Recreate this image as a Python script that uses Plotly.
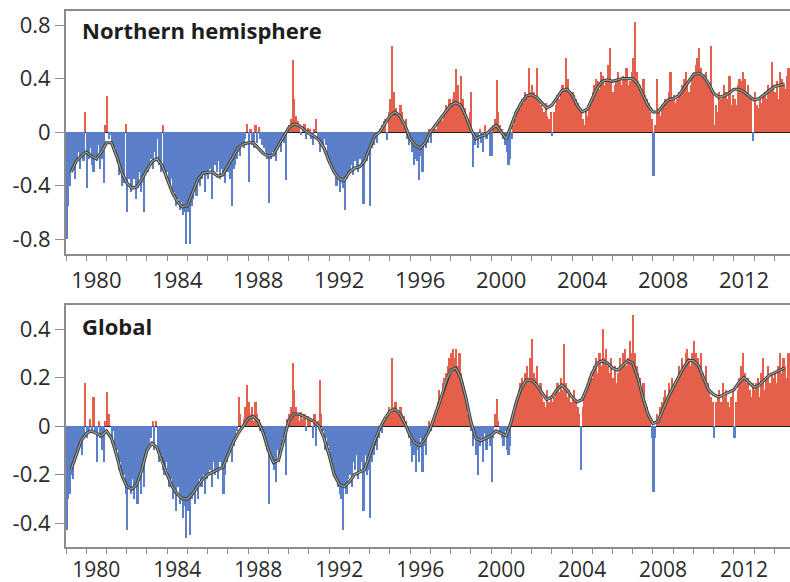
import plotly.graph_objects as go

# ---------------- data (monthly anomalies, Jan 1979 .. Oct 2014) ----------------
start_year = 1979
nh_anom = [
    # 1979
    -0.80, -0.55, -0.40, -0.30, -0.25, -0.35, -0.20, -0.15, -0.28, -0.18, -0.22, 0.15,
    # 1980
    -0.42, -0.20, -0.12, -0.25, -0.30, -0.18, -0.22, -0.10, -0.28, -0.20, -0.38, 0.05,
    # 1981
    0.27, -0.05, -0.02, -0.10, -0.15, -0.12, -0.22, -0.32, -0.28, -0.40, -0.38, 0.06,
    # 1982
    -0.60, -0.35, -0.45, -0.40, -0.35, -0.50, -0.42, -0.30, -0.45, -0.38, -0.60, -0.30,
    # 1983
    -0.30, -0.25, -0.20, -0.28, -0.15, -0.22, -0.05, -0.25, -0.30, 0.05, -0.28, -0.35,
    # 1984
    -0.30, -0.40, -0.35, -0.48, -0.45, -0.55, -0.50, -0.58, -0.52, -0.62, -0.60, -0.84,
    # 1985
    -0.60, -0.84, -0.55, -0.50, -0.42, -0.48, -0.38, -0.40, -0.35, -0.30, -0.45, -0.32,
    # 1986
    -0.35, -0.28, -0.50, -0.30, -0.25, -0.30, -0.22, -0.35, -0.28, -0.32, -0.38, -0.30,
    # 1987
    -0.30, -0.35, -0.55, -0.28, -0.25, -0.20, -0.15, -0.18, -0.10, -0.12, -0.05, 0.06,
    # 1988
    -0.37, 0.02, -0.10, -0.12, 0.05, -0.08, 0.04, -0.05, -0.10, -0.12, -0.15, -0.20,
    # 1989
    -0.53, -0.20, -0.15, -0.18, -0.22, -0.12, -0.10, -0.15, -0.05, -0.08, -0.36, 0.02,
    # 1990
    0.05, 0.10, 0.54, 0.25, 0.12, 0.08, 0.05, -0.02, 0.04, 0.06, -0.05, 0.03,
    # 1991
    0.02, -0.05, -0.10, 0.02, 0.10, -0.06, -0.15, -0.08, -0.12, -0.05, -0.10, -0.18,
    # 1992
    -0.20, -0.25, -0.30, -0.28, -0.40, -0.35, -0.45, -0.38, -0.42, -0.58, -0.35, -0.30,
    # 1993
    -0.30, -0.25, -0.32, -0.22, -0.28, -0.30, -0.20, -0.25, -0.54, -0.18, -0.22, -0.15,
    # 1994
    -0.55, -0.12, -0.10, -0.05, -0.08, 0.00, 0.02, 0.05, 0.08, 0.10, -0.06, 0.15,
    # 1995
    0.25, 0.64, 0.30, 0.18, 0.15, 0.12, 0.20, 0.15, 0.08, 0.10, -0.05, -0.10,
    # 1996
    -0.05, -0.15, -0.25, -0.20, -0.22, -0.36, -0.18, -0.30, -0.10, -0.12, -0.08, 0.02,
    # 1997
    -0.08, 0.00, 0.05, 0.02, 0.08, 0.10, 0.12, 0.08, 0.15, 0.20, 0.18, 0.25,
    # 1998
    0.20, 0.25, 0.30, 0.47, 0.35, 0.22, 0.42, 0.25, 0.18, 0.12, 0.08, 0.15,
    # 1999
    0.30, -0.26, -0.10, -0.05, -0.12, 0.02, -0.08, -0.15, 0.05, -0.05, 0.00, -0.18,
    # 2000
    -0.18, 0.05, 0.10, 0.39, 0.15, 0.05, 0.02, -0.05, -0.10, -0.15, -0.25, -0.20,
    # 2001
    -0.05, 0.05, 0.10, 0.15, 0.20, 0.18, 0.25, 0.22, 0.30, 0.28, 0.48, 0.30,
    # 2002
    0.35, 0.30, 0.28, 0.48, 0.25, 0.20, 0.18, 0.15, 0.22, 0.12, 0.10, 0.15,
    # 2003
    -0.03, 0.15, 0.20, 0.28, 0.25, 0.30, 0.35, 0.32, 0.55, 0.40, 0.30, 0.28,
    # 2004
    0.30, 0.28, 0.25, 0.22, 0.18, 0.15, 0.10, 0.05, 0.18, 0.12, 0.20, 0.25,
    # 2005
    0.30, 0.35, 0.40, 0.38, 0.32, 0.45, 0.42, 0.35, 0.40, 0.50, 0.63, 0.38,
    # 2006
    0.30, 0.35, 0.40, 0.45, 0.38, 0.35, 0.42, 0.40, 0.48, 0.35, 0.38, 0.45,
    # 2007
    0.55, 0.82, 0.45, 0.38, 0.35, 0.30, 0.40, 0.28, 0.25, 0.22, 0.15, 0.10,
    # 2008
    -0.33, 0.05, 0.40, 0.15, 0.12, 0.18, 0.20, 0.25, 0.22, 0.30, 0.45, 0.25,
    # 2009
    0.28, 0.22, 0.25, 0.30, 0.28, 0.35, 0.40, 0.45, 0.38, 0.30, 0.35, 0.42,
    # 2010
    0.45, 0.50, 0.55, 0.63, 0.48, 0.42, 0.40, 0.45, 0.38, 0.35, 0.64, 0.30,
    # 2011
    0.05, 0.20, 0.15, 0.30, 0.25, 0.28, 0.35, 0.30, 0.25, 0.42, 0.20, 0.28,
    # 2012
    0.25, 0.20, 0.35, 0.40, 0.38, 0.45, 0.40, 0.30, 0.35, 0.28, 0.25, -0.07,
    # 2013
    0.30, 0.20, 0.18, 0.25, 0.22, 0.28, 0.30, 0.25, 0.35, 0.30, 0.52, 0.35,
    # 2014
    0.30, 0.38, 0.25, 0.45, 0.40, 0.35, 0.32, 0.42, 0.48, 0.40,
]

gl_anom = [
    # 1979
    -0.43, -0.30, -0.28, -0.20, -0.22, -0.15, -0.12, -0.10, -0.08, -0.12, -0.05, 0.18,
    # 1980
    -0.05, -0.02, 0.03, -0.03, 0.12, -0.02, -0.15, 0.02, -0.05, -0.10, -0.15, 0.02,
    # 1981
    0.14, 0.05, 0.00, -0.05, -0.02, -0.08, -0.10, -0.18, -0.15, -0.22, -0.20, -0.28,
    # 1982
    -0.43, -0.25, -0.28, -0.22, -0.30, -0.25, -0.32, -0.20, -0.28, -0.18, -0.25, -0.12,
    # 1983
    -0.10, -0.08, -0.05, 0.02, -0.10, 0.02, -0.08, -0.15, -0.12, -0.18, -0.20, -0.15,
    # 1984
    -0.18, -0.25, -0.22, -0.30, -0.28, -0.35, -0.25, -0.32, -0.30, -0.38, -0.33, -0.46,
    # 1985
    -0.35, -0.45, -0.30, -0.28, -0.32, -0.25, -0.30, -0.22, -0.25, -0.20, -0.28, -0.22,
    # 1986
    -0.20, -0.18, -0.25, -0.15, -0.20, -0.18, -0.22, -0.15, -0.17, -0.28, -0.20, -0.15,
    # 1987
    -0.12, -0.10, -0.15, -0.08, -0.05, -0.02, 0.12, 0.05, 0.00, 0.03, 0.08, 0.17,
    # 1988
    0.10, 0.05, 0.08, 0.02, 0.10, 0.05, 0.03, -0.02, 0.00, -0.05, -0.08, -0.10,
    # 1989
    -0.32, -0.12, -0.15, -0.18, -0.23, -0.10, -0.15, -0.08, -0.05, -0.06, -0.20, 0.03,
    # 1990
    0.05, 0.08, 0.26, 0.15, 0.08, 0.05, 0.02, 0.06, 0.03, 0.05, -0.02, 0.04,
    # 1991
    0.03, 0.00, -0.05, 0.05, -0.08, 0.02, 0.19, 0.05, -0.02, -0.10, -0.05, -0.08,
    # 1992
    -0.10, -0.15, -0.18, -0.20, -0.22, -0.25, -0.28, -0.30, -0.43, -0.25, -0.28, -0.22,
    # 1993
    -0.20, -0.25, -0.15, -0.18, -0.12, -0.22, -0.18, -0.15, -0.35, -0.12, -0.20, -0.18,
    # 1994
    -0.38, -0.15, -0.12, -0.08, -0.10, -0.05, -0.02, -0.03, 0.02, 0.03, 0.05, 0.08,
    # 1995
    0.05, 0.28, 0.08, 0.10, 0.05, 0.06, 0.08, 0.05, 0.04, 0.02, -0.02, -0.05,
    # 1996
    -0.08, -0.15, -0.12, -0.19, -0.10, -0.15, -0.05, -0.19, -0.08, -0.12, -0.03, 0.02,
    # 1997
    -0.02, 0.00, 0.04, 0.06, 0.10, 0.15, 0.12, 0.18, 0.20, 0.22, 0.25, 0.28,
    # 1998
    0.30, 0.32, 0.28, 0.32, 0.25, 0.30, 0.22, 0.18, 0.12, 0.10, 0.05, 0.02,
    # 1999
    -0.02, -0.08, -0.05, -0.12, -0.20, -0.08, -0.05, -0.15, -0.03, -0.10, -0.05, -0.08,
    # 2000
    -0.23, -0.05, 0.05, 0.11, 0.02, -0.03, -0.05, -0.08, -0.02, -0.10, -0.12, -0.08,
    # 2001
    0.02, 0.05, 0.08, 0.12, 0.15, 0.18, 0.20, 0.17, 0.22, 0.25, 0.20, 0.28,
    # 2002
    0.36, 0.22, 0.20, 0.25, 0.15, 0.18, 0.12, 0.10, 0.08, 0.15, 0.10, 0.12,
    # 2003
    0.10, 0.12, 0.15, 0.18, 0.14, 0.20, 0.15, 0.34, 0.18, 0.12, 0.15, 0.10,
    # 2004
    0.12, 0.15, 0.10, 0.08, 0.05, -0.18, 0.08, 0.12, 0.15, 0.18, 0.20, 0.22,
    # 2005
    0.20, 0.25, 0.28, 0.22, 0.30, 0.25, 0.40, 0.28, 0.32, 0.25, 0.22, 0.28,
    # 2006
    0.20, 0.25, 0.18, 0.22, 0.28, 0.25, 0.30, 0.32, 0.25, 0.28, 0.35, 0.30,
    # 2007
    0.46, 0.30, 0.25, 0.22, 0.20, 0.15, 0.18, 0.10, 0.08, 0.05, 0.02, -0.05,
    # 2008
    -0.27, -0.05, 0.05, 0.02, 0.08, 0.10, 0.12, 0.15, 0.10, 0.18, 0.15, 0.20,
    # 2009
    0.15, 0.18, 0.20, 0.25, 0.22, 0.28, 0.25, 0.30, 0.32, 0.28, 0.25, 0.30,
    # 2010
    0.35, 0.30, 0.28, 0.25, 0.30, 0.22, 0.20, 0.25, 0.18, 0.15, 0.12, 0.10,
    # 2011
    -0.05, 0.10, 0.12, 0.15, 0.10, 0.18, 0.12, 0.15, 0.10, 0.08, 0.12, 0.15,
    # 2012
    -0.05, 0.10, 0.15, 0.20, 0.25, 0.30, 0.22, 0.18, 0.20, 0.15, 0.12, 0.18,
    # 2013
    0.15, 0.18, 0.20, 0.12, 0.22, 0.28, 0.15, 0.20, 0.25, 0.18, 0.22, 0.20,
    # 2014
    0.22, 0.18, 0.25, 0.30, 0.22, 0.28, 0.25, 0.20, 0.30, 0.28,
]

# smoothed curves, read at quarter-year steps from 1979.25
smooth_start = 1979.25
nh_smooth = [
    -0.30, -0.22, -0.18,
    -0.15, -0.18, -0.20, -0.15,
    -0.08, -0.08, -0.18, -0.30,
    -0.38, -0.42, -0.41, -0.35,
    -0.28, -0.22, -0.20, -0.25,
    -0.35, -0.45, -0.52, -0.56,
    -0.55, -0.45, -0.36, -0.31,
    -0.30, -0.30, -0.33, -0.32,
    -0.25, -0.18, -0.12, -0.09,
    -0.08, -0.08, -0.12, -0.16,
    -0.18, -0.17, -0.10, -0.03,
    0.03, 0.06, 0.05, 0.02,
    -0.01, -0.03, -0.06, -0.12,
    -0.22, -0.30, -0.35, -0.36,
    -0.30, -0.27, -0.26, -0.22,
    -0.12, -0.03, 0.00, 0.06,
    0.12, 0.15, 0.12, 0.05,
    -0.05, -0.10, -0.12, -0.08,
    0.00, 0.05, 0.10, 0.15,
    0.20, 0.22, 0.20, 0.12,
    0.02, -0.05, -0.03, -0.02,
    0.02, 0.05, 0.00, -0.05,
    0.05, 0.15, 0.22, 0.27,
    0.28, 0.26, 0.22, 0.18,
    0.20, 0.26, 0.31, 0.32,
    0.28, 0.20, 0.15, 0.17,
    0.25, 0.33, 0.38, 0.39,
    0.38, 0.39, 0.40, 0.40,
    0.40, 0.36, 0.28, 0.20,
    0.15, 0.15, 0.20, 0.24,
    0.25, 0.27, 0.32, 0.38,
    0.43, 0.44, 0.42, 0.36,
    0.29, 0.26, 0.27, 0.29,
    0.32, 0.32, 0.30, 0.27,
    0.24, 0.25, 0.28, 0.31,
    0.34, 0.35, 0.36,
]
gl_smooth = [
    -0.18, -0.12, -0.06,
    -0.03, -0.02, -0.03, -0.04,
    -0.02, -0.05, -0.12, -0.20,
    -0.25, -0.26, -0.24, -0.18,
    -0.10, -0.07, -0.09, -0.15,
    -0.20, -0.25, -0.28, -0.30,
    -0.30, -0.28, -0.25, -0.22,
    -0.20, -0.19, -0.18, -0.17,
    -0.12, -0.07, -0.03, 0.00,
    0.03, 0.04, 0.02, -0.03,
    -0.10, -0.15, -0.14, -0.06,
    0.02, 0.05, 0.05, 0.04,
    0.03, 0.02, 0.00, -0.05,
    -0.12, -0.20, -0.24, -0.25,
    -0.23, -0.20, -0.19, -0.18,
    -0.12, -0.06, -0.01, 0.03,
    0.06, 0.07, 0.05, 0.01,
    -0.04, -0.07, -0.08, -0.05,
    -0.01, 0.05, 0.11, 0.18,
    0.23, 0.24, 0.20, 0.12,
    0.02, -0.05, -0.06, -0.05,
    -0.04, -0.02, -0.03, -0.04,
    0.02, 0.10, 0.16, 0.19,
    0.19, 0.17, 0.14, 0.11,
    0.12, 0.15, 0.17, 0.15,
    0.12, 0.10, 0.11, 0.16,
    0.22, 0.26, 0.27, 0.26,
    0.24, 0.23, 0.25, 0.27,
    0.26, 0.20, 0.12, 0.05,
    0.01, 0.02, 0.07, 0.12,
    0.16, 0.20, 0.24, 0.27,
    0.27, 0.25, 0.20, 0.15,
    0.13, 0.12, 0.13, 0.14,
    0.15, 0.18, 0.20, 0.18,
    0.16, 0.17, 0.19, 0.21,
    0.22, 0.23, 0.24,
]

panel_titles = ["Northern hemisphere", "Global"]
x_tick_years = [1980, 1984, 1988, 1992, 1996, 2000, 2004, 2008, 2012]
x_tick_labels = [str(y) for y in x_tick_years]
nh_y_ticks = [0.8, 0.4, 0, -0.4, -0.8]
nh_y_labels = ["0.8", "0.4", "0", "-0.4", "-0.8"]
gl_y_ticks = [0.4, 0.2, 0, -0.2, -0.4]
gl_y_labels = ["0.4", "0.2", "0", "-0.2", "-0.4"]

# ---------------- styling ----------------
RED = "#E4604B"
BLUE = "#5B7FC8"
AXIS = "#8c8c8c"
FONT = "Open Sans"

def month_x(n):
    return [start_year + (i + 0.5) / 12 for i in range(n)]

def smooth_x(n):
    return [smooth_start + 0.25 * i for i in range(n)]

fig = go.Figure()

panels = [
    (nh_anom, nh_smooth, "x", "y"),
    (gl_anom, gl_smooth, "x2", "y2"),
]
for vals, sm, xa, ya in panels:
    fig.add_trace(go.Bar(
        x=month_x(len(vals)), y=vals, width=1 / 12,
        marker=dict(color=[RED if v >= 0 else BLUE for v in vals], line=dict(width=0)),
        xaxis=xa, yaxis=ya, showlegend=False, hoverinfo="skip",
    ))
    fig.add_trace(go.Scatter(
        x=smooth_x(len(sm)), y=sm, mode="lines",
        line=dict(color="#3d3d3d", width=3.2),
        xaxis=xa, yaxis=ya, showlegend=False, hoverinfo="skip",
    ))
    fig.add_trace(go.Scatter(
        x=smooth_x(len(sm)), y=sm, mode="lines",
        line=dict(color="#9aa598", width=1.2),
        xaxis=xa, yaxis=ya, showlegend=False, hoverinfo="skip",
    ))

x_end = 1979 + 724 / 20.24

def xaxis_common(major_len, font_size):
    return dict(
        range=[1979.0, x_end], automargin=False,
        tickvals=[y + 0.5 for y in x_tick_years], ticktext=x_tick_labels,
        ticks="outside", ticklen=major_len, tickcolor="rgba(0,0,0,0)",
        minor=dict(tickvals=list(range(1979, 2015)), ticks="outside", ticklen=5,
                   tickcolor=AXIS, tickwidth=1.3),
        showline=True, linecolor=AXIS, linewidth=2.2, mirror=True,
        showgrid=False, zeroline=False,
        tickfont=dict(family=FONT, size=font_size, color="#2b2b2b"),
    )

yaxis_common = dict(
    automargin=False,
    ticks="outside", ticklen=9, tickcolor=AXIS, tickwidth=1.3,
    showline=True, linecolor=AXIS, linewidth=2,
    showgrid=False, zeroline=True, zerolinecolor="#1e1e1e", zerolinewidth=1.4,
    tickfont=dict(family=FONT, size=22, color="#2b2b2b"),
)

fig.update_layout(
    width=790, height=582,
    margin=dict(l=66, r=0, t=11, b=35),
    plot_bgcolor="white", paper_bgcolor="white",
    bargap=0,
    xaxis=dict(domain=[0, 1], anchor="y", **xaxis_common(5, 22)),
    yaxis=dict(domain=[0.5466, 1.0], anchor="x", range=[-0.912, 0.905],
               tickvals=nh_y_ticks, ticktext=nh_y_labels, **yaxis_common),
    xaxis2=dict(domain=[0, 1], anchor="y2", **xaxis_common(3, 21)),
    yaxis2=dict(domain=[0.0, 0.4515], anchor="x2", range=[-0.499, 0.500],
                tickvals=gl_y_ticks, ticktext=gl_y_labels, **yaxis_common),
    annotations=[
        dict(text="<b>%s</b>" % panel_titles[0], xref="x domain", yref="y domain",
             x=0.02, y=0.922, xanchor="left", yanchor="middle", showarrow=False,
             font=dict(family=FONT, size=22, color="#1e1e1e")),
        dict(text="<b>%s</b>" % panel_titles[1], xref="x2 domain", yref="y2 domain",
             x=0.02, y=0.913, xanchor="left", yanchor="middle", showarrow=False,
             font=dict(family=FONT, size=22, color="#1e1e1e")),
    ],
)

fig.write_html(
    "out.html",
    config={"displayModeBar": False},
    post_script="document.body.style.margin='0';document.body.style.padding='0';",
)
